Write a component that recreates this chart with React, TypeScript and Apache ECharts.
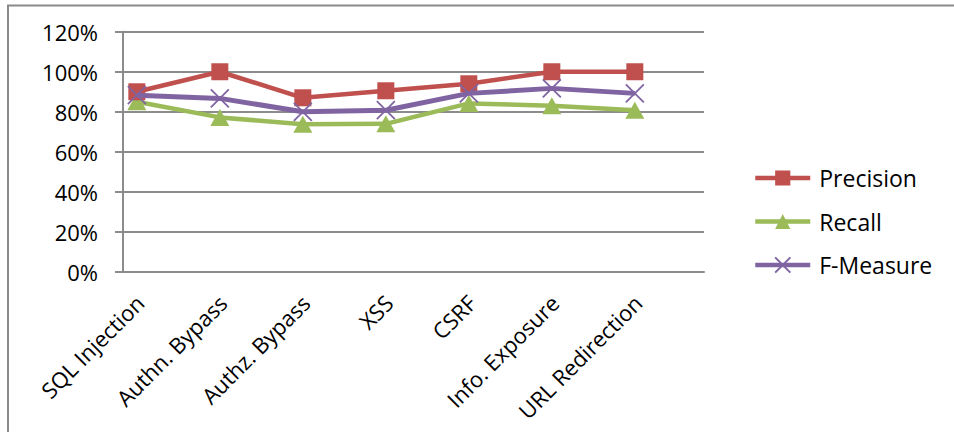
import React, { useEffect, useRef } from "react";
import * as echarts from "echarts";

// Vulnerability categories, one labelled slot every third axis position
const categories = [
  "SQL Injection",
  "Authn. Bypass",
  "Authz. Bypass",
  "XSS",
  "CSRF",
  "Info. Exposure",
  "URL Redirection",
];
const slotStep = 3;
const slotCount = 21;

const precision = [0.9, 1.0, 0.87, 0.905, 0.94, 1.0, 1.0];
const recall = [0.85, 0.772, 0.738, 0.74, 0.842, 0.83, 0.808];
const fMeasure = [0.883, 0.867, 0.8, 0.808, 0.892, 0.917, 0.892];

const yTicks = { min: 0, max: 1.2, interval: 0.2 };

const FONT = "'Open Sans', 'Noto Sans', sans-serif";
const crossPath = "path://M0,0L10,10M10,0L0,10";

const axisSlots: string[] = Array.from({ length: slotCount }, (_, i) =>
  i % slotStep === 0 && i / slotStep < categories.length ? categories[i / slotStep] : ""
);

const toPoints = (values: number[]) => values.map((v, i) => [i * slotStep, v]);

export default function App() {
  const ref = useRef<HTMLDivElement>(null);

  useEffect(() => {
    if (!ref.current) return;
    const chart = echarts.init(ref.current, null, { renderer: "svg" });
    chart.setOption({
      animation: false,
      backgroundColor: "#ffffff",
      textStyle: { fontFamily: FONT },
      graphic: [
        {
          type: "rect",
          shape: { x: 8, y: 5.5, width: 980, height: 460 },
          style: { fill: "none", stroke: "#8a8a8a", lineWidth: 2 },
          silent: true,
        },
      ],
      grid: { left: 123, right: 250, top: 31.7, bottom: 160 },
      legend: {
        orient: "vertical",
        left: 748,
        top: 161.5,
        itemWidth: 55,
        itemHeight: 19,
        itemGap: 20.5,
        lineStyle: { width: 4.5 },
        textStyle: { fontSize: 23, color: "#000", fontFamily: FONT, padding: [0, 0, 0, 4] },
        data: ["Precision", "Recall", "F-Measure"],
      },
      xAxis: {
        type: "category",
        data: axisSlots,
        boundaryGap: true,
        axisLine: { lineStyle: { color: "#8c8c8c", width: 2 } },
        axisTick: { interval: 0, length: 7, lineStyle: { color: "#8c8c8c", width: 2 } },
        axisLabel: {
          interval: 0,
          rotate: 45,
          margin: 14,
          verticalAlign: "top",
          align: "right",
          padding: [0, 7, 0, 0],
          fontSize: 22,
          color: "#000",
          fontFamily: FONT,
        },
        splitLine: { show: false },
      },
      yAxis: {
        type: "value",
        min: yTicks.min,
        max: yTicks.max,
        interval: yTicks.interval,
        axisLine: { show: true, lineStyle: { color: "#8c8c8c", width: 2 } },
        axisTick: { show: true, length: 8, lineStyle: { color: "#8c8c8c", width: 2 } },
        axisLabel: {
          margin: 25,
          fontSize: 22,
          color: "#000",
          fontFamily: FONT,
          formatter: (v: number) => `${Math.round(v * 100)}%`,
        },
        splitLine: { lineStyle: { color: "#8c8c8c", width: 2 } },
      },
      series: [
        {
          name: "Precision",
          type: "line",
          data: toPoints(precision),
          symbol: "rect",
          symbolSize: 17,
          lineStyle: { color: "#C0504D", width: 4.5 },
          itemStyle: { color: "#C0504D" },
          z: 3,
        },
        {
          name: "Recall",
          type: "line",
          data: toPoints(recall),
          symbol: "triangle",
          symbolSize: [19, 17],
          lineStyle: { color: "#9BBB59", width: 4.5 },
          itemStyle: { color: "#9BBB59" },
          z: 2,
        },
        {
          name: "F-Measure",
          type: "line",
          data: toPoints(fMeasure),
          symbol: crossPath,
          symbolSize: 18,
          lineStyle: { color: "#8064A2", width: 5 },
          itemStyle: { color: "#8064A2", borderColor: "#8064A2", borderWidth: 1.8 },
          z: 4,
        },
      ],
    });
    return () => chart.dispose();
  }, []);

  return <div ref={ref} style={{ width: 954, height: 432, position: "absolute", left: 0, top: 0 }} />;
}
